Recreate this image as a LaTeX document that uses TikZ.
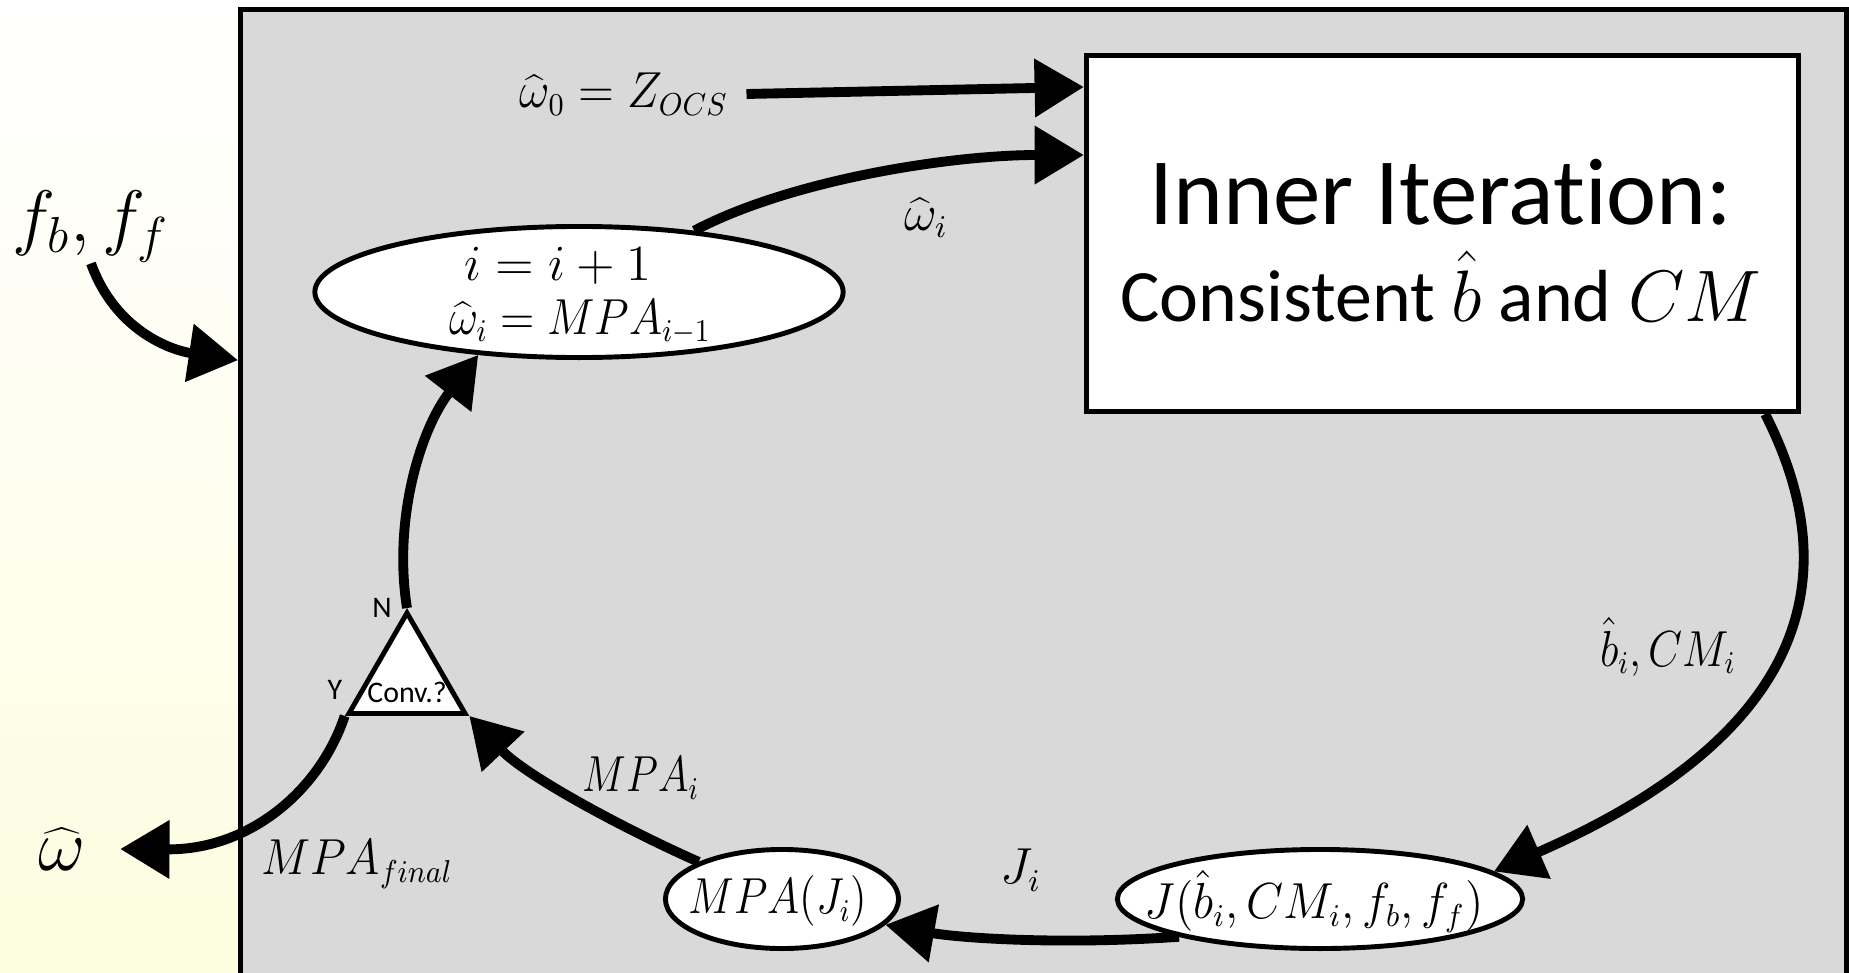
\documentclass[tikz,border=0pt]{standalone}
\usepackage{graphicx}
\usepackage{fontspec}
\setsansfont{Carlito}[Ligatures=NoCommon]
\usetikzlibrary{arrows.meta,shapes.geometric,shadings}
\definecolor{panelgray}{RGB}{217,217,217}
\definecolor{paleyellow}{RGB}{253,253,224}
% narrow a formula horizontally, keeping its height
\newcommand{\hsqueeze}[2]{\scalebox{#1}[1]{#2}}
\begin{document}
\begin{tikzpicture}[x=0.01cm, y=-0.01cm,
  link/.style={line width=2.8pt, -{Triangle[length=14pt, width=16pt]}},
  oval/.style={ellipse, draw, line width=1.4pt, fill=white, inner sep=0pt},
  mathlbl/.style={font=\fontsize{13.5}{16}\selectfont, inner sep=0pt},
  biglbl/.style={font=\fontsize{20}{24}\selectfont, inner sep=0pt},
  tinylbl/.style={font=\sffamily\fontsize{8.5}{10}\selectfont, inner sep=0pt},
]
\useasboundingbox (0,0) rectangle (1849,973);
% page background
\shade[top color=white, middle color=white, bottom color=paleyellow]
  (0,0) rectangle (1849,973);
% grey panel holding the outer loop
\begin{scope}
  \clip (0,0) rectangle (1849,973);
  \node[draw, line width=1.3pt, fill=panelgray, anchor=north west,
        minimum width=16.05cm, minimum height=10cm, inner sep=0pt] (panel) at (238,7) {};
\end{scope}

% inner iteration block
\node[draw, line width=1.4pt, fill=white, minimum width=7.12cm, minimum height=3.56cm,
      inner sep=0pt] (inner) at (1442.5,233.5) {};
\node[anchor=base, font=\sffamily\fontsize{27}{32}\selectfont, inner sep=0pt] at (1441,224) {Inner Iteration:};
\node[anchor=base, font=\sffamily\fontsize{21}{26}\selectfont, inner sep=0pt] at (1441,321) {Consistent $\hat{b}$ and $CM$};

% update step
\node[oval, minimum width=5.28cm, minimum height=1.31cm] (upd) at (579,292) {};
\node[mathlbl, anchor=base] at (558,281) {$i = i + 1$};
\node[mathlbl, anchor=base] at (580,334) {\hsqueeze{0.89}{$\widehat{\omega}_i = MPA_{i-1}$}};

% cost and MPA
\node[oval, minimum width=4.05cm, minimum height=0.99cm] (cost) at (1320,899) {};
\node[mathlbl] at (1314,901) {\hsqueeze{0.95}{$J\bigl(\hat{b}_i, CM_i, f_b, f_f\bigr)$}};
\node[oval, minimum width=2.33cm, minimum height=0.99cm] (mpa) at (782,899) {};
\node[mathlbl] at (778,901) {\hsqueeze{0.86}{$MPA(J_i)$}};

% connector labels
\node[mathlbl] (w0) at (624,94) {\hsqueeze{0.93}{$\widehat{\omega}_0 = Z_{OCS}$}};
\node[mathlbl] at (926,218) {$\widehat{\omega}_i$};
\node[mathlbl] at (1668,647) {\hsqueeze{0.87}{$\hat{b}_i, CM_i$}};
\node[mathlbl] at (1021,870) {$J_i$};
\node[mathlbl] at (641,778) {\hsqueeze{0.82}{$MPA_i$}};
\node[mathlbl] at (357,864) {\hsqueeze{0.92}{$MPA_{final}$}};
\node[biglbl] (fb) at (91,227) {$f_b, f_f$};
\node[biglbl] (what) at (62,849) {$\widehat{\omega}$};

% convergence test
\node[regular polygon, regular polygon sides=3, draw, line width=1.4pt, fill=white,
      minimum size=1.34cm, inner sep=0pt] (conv) at (407,680) {};
\node[tinylbl] at (407,692) {Conv.?};
\node[tinylbl] at (382,608) {N};
\node[tinylbl] at (335,690) {Y};

% connectors
\draw[link] ([xshift=5pt]w0.east) -- ([yshift=-0.34cm]inner.north west);
\draw[link] (upd.28) .. controls (790,180) and (950,155) .. ([yshift=-1.02cm]inner.north west);
\draw[link] ([xshift=-0.36cm]inner.south east) .. controls (1870,620) and (1750,760) .. (cost.9);
\draw[link] (cost.195) .. controls (1060,945) and (960,938) .. (mpa.-14);
\draw[link] (mpa.156) .. controls (620,827) and (525,775) .. (conv.corner 3);
\draw[link] (conv.corner 1) .. controls (393,520) and (420,430) .. (upd.212);
\draw[link] (conv.corner 2) .. controls (320,790) and (250,850) .. ([xshift=0.34cm]what.east);
\draw[link] (fb.south) .. controls (115,330) and (170,350) .. ([yshift=-3.53cm]panel.north west);
\end{tikzpicture}
\end{document}
